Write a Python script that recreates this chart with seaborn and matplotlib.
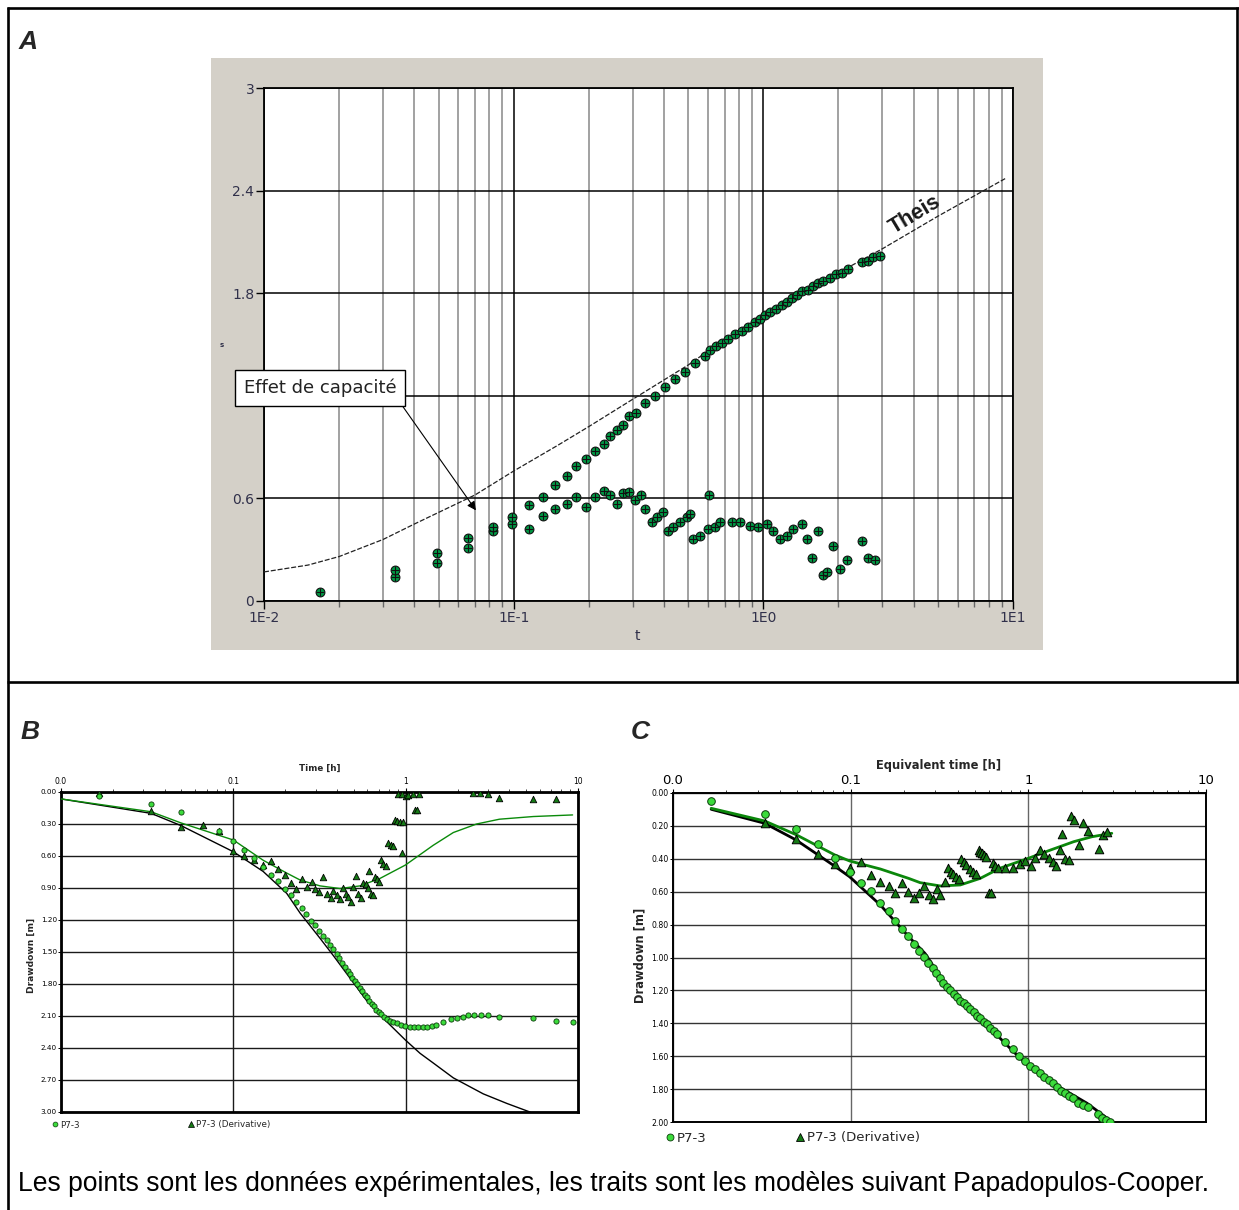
import numpy as np
import pandas as pd
import matplotlib
matplotlib.use("Agg")
import matplotlib.pyplot as plt
import seaborn as sns
from matplotlib.lines import Line2D
from matplotlib.patches import Rectangle
from matplotlib.ticker import LogLocator, FixedLocator, NullFormatter, FixedFormatter

# ---------------- DATA ----------------
# Panel A : drawdown (s) and derivative vs time t, Theis type curve
a_t_draw = [0.0168, 0.0335, 0.0492, 0.0658, 0.0824, 0.0982, 0.115, 0.131, 0.147, 0.163, 0.178, 0.195, 0.211,
            0.229, 0.244, 0.26, 0.275, 0.29, 0.309, 0.336, 0.368, 0.403, 0.442, 0.485, 0.532, 0.583, 0.611, 0.646,
            0.682, 0.721, 0.769, 0.820, 0.867, 0.925, 0.968, 1.014, 1.062, 1.122, 1.186, 1.244, 1.303, 1.364,
            1.428, 1.509, 1.580, 1.655, 1.733, 1.849, 1.954, 2.065, 2.182, 2.483, 2.624, 2.748, 2.931]
a_s_draw = [0.05, 0.14, 0.22, 0.31, 0.41, 0.45, 0.56, 0.61, 0.68, 0.73, 0.79, 0.83, 0.88, 0.92, 0.965, 1.0, 1.03,
            1.08, 1.10, 1.16, 1.20, 1.25, 1.30, 1.34, 1.39, 1.43, 1.47, 1.49, 1.51, 1.53, 1.56, 1.58, 1.60, 1.63,
            1.65, 1.67, 1.69, 1.71, 1.73, 1.75, 1.77, 1.79, 1.81, 1.82, 1.84, 1.86, 1.87, 1.89, 1.91, 1.92, 1.94,
            1.98, 1.99, 2.01, 2.02]
a_t_deriv = [0.0335, 0.0492, 0.0658, 0.0824, 0.0982, 0.115, 0.131, 0.147, 0.163, 0.178, 0.195, 0.211, 0.229,
             0.244, 0.26, 0.275, 0.29, 0.306, 0.323, 0.336, 0.357, 0.374, 0.397, 0.416, 0.436, 0.463, 0.493,
             0.508, 0.524, 0.557, 0.601, 0.607, 0.640, 0.670, 0.746, 0.806, 0.884, 0.955, 1.031, 1.096, 1.165,
             1.239, 1.318, 1.424, 1.491, 1.561, 1.659, 1.738, 1.803, 1.906, 2.027, 2.156, 2.475, 2.631, 2.798]
a_s_deriv = [0.18, 0.28, 0.37, 0.43, 0.49, 0.42, 0.50, 0.54, 0.57, 0.61, 0.55, 0.61, 0.645, 0.62, 0.57, 0.63,
             0.64, 0.59, 0.62, 0.54, 0.46, 0.49, 0.52, 0.41, 0.43, 0.46, 0.49, 0.51, 0.36, 0.38, 0.42, 0.62,
             0.43, 0.46, 0.46, 0.46, 0.44, 0.43, 0.45, 0.41, 0.36, 0.38, 0.42, 0.45, 0.36, 0.25, 0.41, 0.15,
             0.17, 0.32, 0.19, 0.24, 0.35, 0.25, 0.24]
a_t_theis = [0.01, 0.015, 0.02, 0.03, 0.04, 0.07, 0.1, 0.15, 0.2, 0.3, 0.5, 0.7, 1.0, 2.0, 3.0, 5.0, 9.3]
a_s_theis = [0.17, 0.21, 0.26, 0.36, 0.45, 0.62, 0.76, 0.91, 1.02, 1.18, 1.38, 1.53, 1.67, 1.92, 2.06, 2.25, 2.47]
a_xticks = [0.01, 0.1, 1, 10]
a_xticklabels = ["1E-2", "1E-1", "1E0", "1E1"]
a_yticks = [0, 0.6, 1.2, 1.8, 2.4, 3]
a_yticklabels = ["0", "0.6", "", "1.8", "2.4", "3"]   # 1.2 is hidden behind the callout box

# Panel B : P7-3 drawdown and derivative vs time [h]
b_t_draw = [0.0166, 0.0333, 0.0497, 0.0826, 0.0992, 0.116, 0.132, 0.149, 0.166, 0.182, 0.2, 0.215, 0.232, 0.249,
            0.265, 0.282, 0.298, 0.314, 0.330, 0.348, 0.364, 0.381, 0.398, 0.412, 0.429, 0.445, 0.461, 0.476,
            0.491, 0.508, 0.524, 0.544, 0.561, 0.579, 0.597, 0.615, 0.635, 0.655, 0.676, 0.698, 0.723, 0.750,
            0.776, 0.811, 0.849, 0.888, 0.937, 0.996, 1.061, 1.12, 1.186, 1.257, 1.325, 1.418, 1.501, 1.654,
            1.827, 1.980, 2.144, 2.311, 2.495, 2.728, 2.995, 3.485, 5.47, 7.46, 9.40]
b_s_draw = [0.04, 0.115, 0.19, 0.37, 0.456, 0.54, 0.62, 0.70, 0.78, 0.83, 0.905, 0.965, 1.035, 1.09, 1.14, 1.21,
            1.25, 1.30, 1.35, 1.39, 1.43, 1.475, 1.52, 1.56, 1.60, 1.64, 1.675, 1.705, 1.74, 1.77, 1.80, 1.835,
            1.865, 1.90, 1.925, 1.955, 1.985, 2.01, 2.04, 2.06, 2.085, 2.105, 2.125, 2.145, 2.155, 2.17, 2.18,
            2.19, 2.20, 2.20, 2.205, 2.205, 2.20, 2.19, 2.18, 2.16, 2.13, 2.115, 2.105, 2.095, 2.095, 2.095,
            2.095, 2.105, 2.12, 2.15, 2.16]
b_t_deriv = [0.0166, 0.0333, 0.0497, 0.0664, 0.0826, 0.0992, 0.116, 0.132, 0.149, 0.166, 0.182, 0.2, 0.215,
             0.232, 0.249, 0.267, 0.285, 0.298, 0.315, 0.333, 0.351, 0.367, 0.380, 0.398, 0.416, 0.431, 0.451,
             0.465, 0.482, 0.497, 0.515, 0.532, 0.549, 0.569, 0.589, 0.603, 0.616, 0.630, 0.650, 0.667, 0.686,
             0.701, 0.720, 0.742, 0.769, 0.794, 0.819, 0.841, 0.867, 0.895, 0.907, 0.927, 0.948, 0.948, 0.961,
             1.005, 1.037, 1.099, 1.135, 1.159, 1.201, 2.472, 2.70, 2.997, 3.48, 5.47, 7.46]
b_s_deriv = [0.01, 0.175, 0.33, 0.31, 0.365, 0.55, 0.60, 0.64, 0.68, 0.645, 0.725, 0.78, 0.855, 0.91, 0.82,
             0.89, 0.84, 0.91, 0.94, 0.80, 0.96, 0.99, 0.925, 0.965, 1.005, 0.90, 0.955, 0.98, 1.03, 0.895,
             0.785, 0.96, 0.99, 0.85, 0.86, 0.90, 0.74, 0.96, 0.97, 0.80, 0.82, 0.84, 0.64, 0.675, 0.69, 0.48,
             0.50, 0.51, 0.26, 0.27, 0.02, 0.28, 0.575, 0.02, 0.28, 0.04, 0.03, 0.02, 0.17, 0.17, 0.02, 0.01,
             0.01, 0.02, 0.06, 0.07, 0.07]
b_t_model = [0.01, 0.0333, 0.0497, 0.1, 0.149, 0.204, 0.244, 0.318, 0.381, 0.594, 0.74, 0.996, 1.212, 1.444,
             1.89, 2.82, 3.87, 5.26]
b_s_model = [0.065, 0.20, 0.315, 0.56, 0.745, 0.95, 1.135, 1.37, 1.535, 1.956, 2.12, 2.325, 2.45, 2.54, 2.68,
             2.83, 2.92, 3.0]
b_t_model_der = [0.01, 0.0333, 0.0497, 0.1, 0.149, 0.204, 0.244, 0.318, 0.416, 0.544, 0.71, 0.996, 1.444, 1.89,
                 2.58, 3.5, 5.5, 9.3]
b_s_model_der = [0.065, 0.185, 0.29, 0.45, 0.64, 0.76, 0.825, 0.88, 0.905, 0.88, 0.81, 0.685, 0.50, 0.38, 0.30,
                 0.255, 0.23, 0.215]
b_xticks = [0.01, 0.1, 1, 10]
b_xticklabels = ["0.0", "0.1", "1", "10"]
b_yticks = [0.0, 0.3, 0.6, 0.9, 1.2, 1.5, 1.8, 2.1, 2.4, 2.7, 3.0]

# Panel C : P7-3 drawdown and derivative vs equivalent time [h]
c_t_draw = [0.01643, 0.0329, 0.0492, 0.0655, 0.0816, 0.0986, 0.1148, 0.1307, 0.1469, 0.1635, 0.178, 0.1945,
            0.210, 0.227, 0.242, 0.258, 0.274, 0.289, 0.303, 0.319, 0.333, 0.348, 0.364, 0.380, 0.397, 0.414,
            0.432, 0.451, 0.471, 0.492, 0.514, 0.536, 0.560, 0.585, 0.611, 0.637, 0.666, 0.741, 0.819, 0.881,
            0.952, 1.025, 1.094, 1.167, 1.230, 1.300, 1.369, 1.449, 1.532, 1.613, 1.698, 1.782, 1.901, 2.029,
            2.155, 2.454, 2.597, 2.746, 2.891]
c_s_draw = [0.047, 0.128, 0.217, 0.308, 0.397, 0.478, 0.547, 0.598, 0.667, 0.717, 0.776, 0.829, 0.869, 0.918,
            0.959, 0.997, 1.035, 1.066, 1.096, 1.127, 1.157, 1.181, 1.198, 1.222, 1.242, 1.262, 1.279, 1.295,
            1.313, 1.333, 1.354, 1.370, 1.390, 1.406, 1.427, 1.447, 1.465, 1.516, 1.556, 1.597, 1.627, 1.658,
            1.678, 1.704, 1.725, 1.745, 1.765, 1.789, 1.810, 1.826, 1.842, 1.852, 1.883, 1.897, 1.907, 1.953,
            1.973, 1.988, 1.998]
c_t_deriv = [0.0328, 0.0492, 0.0655, 0.0816, 0.0986, 0.1148, 0.1307, 0.1469, 0.1635, 0.178, 0.1945, 0.210, 0.227,
             0.242, 0.258, 0.275, 0.291, 0.306, 0.319, 0.338, 0.353, 0.367, 0.379, 0.391, 0.405, 0.418, 0.432,
             0.447, 0.467, 0.488, 0.507, 0.525, 0.536, 0.548, 0.565, 0.580, 0.597, 0.616, 0.632, 0.651, 0.671,
             0.741, 0.819, 0.893, 0.961, 1.035, 1.094, 1.167, 1.230, 1.300, 1.369, 1.430, 1.499, 1.557, 1.613,
             1.684, 1.737, 1.796, 1.917, 2.029, 2.155, 2.483, 2.629, 2.767]
c_s_deriv = [0.184, 0.281, 0.373, 0.432, 0.458, 0.417, 0.498, 0.539, 0.565, 0.610, 0.545, 0.600, 0.640, 0.610,
             0.565, 0.62, 0.644, 0.586, 0.620, 0.539, 0.454, 0.478, 0.494, 0.509, 0.523, 0.401, 0.421, 0.438,
             0.462, 0.478, 0.494, 0.347, 0.357, 0.367, 0.377, 0.387, 0.610, 0.610, 0.427, 0.444, 0.458, 0.458,
             0.458, 0.433, 0.413, 0.444, 0.393, 0.347, 0.373, 0.397, 0.421, 0.444, 0.347, 0.249, 0.403, 0.407,
             0.138, 0.164, 0.316, 0.184, 0.231, 0.340, 0.255, 0.239]
c_t_model = [0.0164, 0.0328, 0.0492, 0.0816, 0.0986, 0.1469, 0.212, 0.262, 0.348, 0.536, 0.826, 1.0, 1.449,
             2.14, 2.95]
c_s_model = [0.099, 0.184, 0.285, 0.446, 0.509, 0.681, 0.873, 0.975, 1.177, 1.37, 1.573, 1.658, 1.779, 1.886,
             1.998]
c_t_model_der = [0.0164, 0.0328, 0.0492, 0.0816, 0.0986, 0.1469, 0.212, 0.246, 0.319, 0.414, 0.536, 0.69, 1.0,
                 1.33, 1.80, 2.28, 2.95]
c_s_model_der = [0.093, 0.17, 0.253, 0.377, 0.413, 0.462, 0.519, 0.545, 0.565, 0.559, 0.519, 0.458, 0.397,
                 0.347, 0.296, 0.266, 0.245]
c_xticks = [0.01, 0.1, 1, 10]
c_xticklabels = ["0.0", "0.1", "1", "10"]
c_yticks = [0.0, 0.2, 0.4, 0.6, 0.8, 1.0, 1.2, 1.4, 1.6, 1.8, 2.0]

caption = "Les points sont les données expérimentales, les traits sont les modèles suivant Papadopulos-Cooper."

# ---------------- STYLE ----------------
sns.set_theme(style="white")
plt.rcParams["font.family"] = ["DejaVu Sans"]

W, H = 1239, 1210
fig = plt.figure(figsize=(W / 100, H / 100), dpi=100)
fig.patch.set_facecolor("white")


def fr(x0, y0, x1, y1):
    """pixel box -> axes rect in figure fraction"""
    return [x0 / W, 1 - y1 / H, (x1 - x0) / W, (y1 - y0) / H]


def fx(x):
    return x / W


def fy(y):
    return 1 - y / H


# frame of the table
frame_kw = dict(color="black", lw=1.9, transform=fig.transFigure, solid_capstyle="butt")
fig.add_artist(Line2D([fx(8), fx(8)], [fy(7), fy(1210)], **frame_kw))
fig.add_artist(Line2D([fx(7), fx(1239)], [fy(8), fy(8)], **frame_kw))
fig.add_artist(Line2D([fx(1237), fx(1237)], [fy(7), fy(682)], **frame_kw))
fig.add_artist(Line2D([fx(7), fx(1239)], [fy(682), fy(682)], **frame_kw))

letter_kw = dict(fontsize=19, fontweight="bold", fontstyle="italic", family=["Liberation Sans", "DejaVu Sans"],
                 ha="center", va="center")
fig.text(fx(28), fy(42), "A", **letter_kw)
fig.text(fx(30), fy(732), "B", **letter_kw)
fig.text(fx(640), fy(732), "C", **letter_kw)

fig.text(fx(18), fy(1184), caption, fontsize=19.1, family=["Liberation Sans", "DejaVu Sans"],
         ha="left", va="center", color="black")

# ---------------- PANEL A ----------------
fig.add_artist(Rectangle((fx(211), fy(650)), (1043 - 211) / W, (650 - 58) / H, transform=fig.transFigure,
                         facecolor="#D4D0C8", edgecolor="none", zorder=0))
axA = fig.add_axes(fr(264, 88, 1013, 601))
axA.set_facecolor("white")
axA.set_xscale("log")
axA.set_xlim(0.01, 10)
axA.set_ylim(0, 3)
axA.xaxis.set_major_locator(FixedLocator(a_xticks))
axA.xaxis.set_major_formatter(FixedFormatter(a_xticklabels))
axA.xaxis.set_minor_locator(LogLocator(base=10, subs=np.arange(2, 10)))
axA.xaxis.set_minor_formatter(NullFormatter())
axA.set_yticks(a_yticks)
axA.set_yticklabels(a_yticklabels)
axA.grid(True, which="minor", axis="x", color="#9a9a9a", lw=1.3, zorder=0)
axA.grid(True, which="major", color="black", lw=1.1, zorder=0.5)
axA.set_axisbelow(True)
for sp in axA.spines.values():
    sp.set_color("black")
    sp.set_linewidth(1.3)
axA.tick_params(axis="both", which="major", direction="out", length=6, width=1, color="black",
                labelsize=10, labelcolor="#30304a", pad=1, left=True, bottom=True)
axA.tick_params(axis="x", which="minor", direction="out", length=4, width=1, color="#666666", bottom=True)

sns.lineplot(x=a_t_theis, y=a_s_theis, ax=axA, color="#222222", lw=0.9, linestyle=(0, (4, 1.5)),
             sort=False, zorder=3)
for tt, ss in ((a_t_draw, a_s_draw), (a_t_deriv, a_s_deriv)):
    sns.scatterplot(x=tt, y=ss, ax=axA, marker="o", s=40, color="#009944", edgecolor="#111111",
                    linewidth=0.8, zorder=4)
    sns.scatterplot(x=tt, y=ss, ax=axA, marker="+", s=30, color="#111111", linewidth=0.8, zorder=5)
axA.set_xlabel("")
axA.set_ylabel("")
fig.text(fx(637), fy(636), "t", fontsize=10, color="#30304a", ha="center", va="center")
fig.text(fx(222), fy(345), "s", fontsize=5, fontweight="bold", color="#30304a", ha="center", va="center")

axA.text(4.05, 2.257, "Theis", rotation=31, rotation_mode="anchor", ha="center", va="center",
         fontsize=15.5, fontweight="bold", family=["Liberation Sans", "DejaVu Sans"], color="#1a1a1a", zorder=6)
axA.annotate("Effet de capacité", xy=(0.0706, 0.53), xycoords="data",
             xytext=(fx(320), fy(388)), textcoords="figure fraction",
             ha="center", va="center", fontsize=13, color="#222222",
             bbox=dict(boxstyle="square,pad=0.5", fc="white", ec="black", lw=1),
             arrowprops=dict(arrowstyle="-|>", color="black", lw=0.8, mutation_scale=13,
                             shrinkA=0, shrinkB=0, relpos=(1, 0)),
             annotation_clip=False, zorder=10)

# ---------------- helper for B and C ----------------
circle_col = "#3BDB3B"
tri_col = "#157A15"


def setup_bc(ax, yticks, ylim, xtick_size, ytick_size, grid_col, vgrid_col, spine_lw):
    ax.set_xscale("log")
    ax.set_xlim(0.01, 10)
    ax.set_ylim(ylim, 0)
    ax.xaxis.tick_top()
    ax.xaxis.set_major_locator(FixedLocator(b_xticks))
    ax.xaxis.set_minor_locator(LogLocator(base=10, subs=np.arange(2, 10)))
    ax.xaxis.set_minor_formatter(NullFormatter())
    ax.set_yticks(yticks)
    ax.set_yticklabels([f"{v:.2f}" for v in yticks])
    ax.yaxis.grid(True, color=grid_col, lw=1.0)
    ax.xaxis.grid(True, which="major", color=vgrid_col, lw=1.0)
    ax.set_axisbelow(True)
    for sp in ax.spines.values():
        sp.set_color("black")
        sp.set_linewidth(spine_lw)
    ax.tick_params(axis="x", which="major", top=True, bottom=False, direction="out", length=3, width=0.8,
                   labelsize=xtick_size, pad=1, labeltop=True, labelbottom=False, colors="black")
    ax.tick_params(axis="x", which="minor", top=True, bottom=False, direction="out", length=2.5, width=0.6)
    ax.tick_params(axis="y", which="major", left=True, direction="out", length=2, width=0.7,
                   labelsize=ytick_size, pad=1, colors="black")
    ax.set_xlabel("")
    ax.set_ylabel("")


# ---------------- PANEL B ----------------
axB = fig.add_axes(fr(61, 792, 578, 1112))
axB.set_facecolor("white")
sns.lineplot(x=b_t_model, y=b_s_model, ax=axB, color="black", lw=1.0, sort=False, zorder=3)
sns.lineplot(x=b_t_model_der, y=b_s_model_der, ax=axB, color="#0A8A0A", lw=1.0, sort=False, zorder=3)
sns.scatterplot(x=b_t_deriv, y=b_s_deriv, ax=axB, marker="^", s=22, color=tri_col, edgecolor="black",
                linewidth=0.6, zorder=4)
sns.scatterplot(x=b_t_draw, y=b_s_draw, ax=axB, marker="o", s=14, color=circle_col, edgecolor="#0b3b0b",
                linewidth=0.6, zorder=5)
setup_bc(axB, b_yticks, 3.0, 5.5, 5.2, "#1a1a1a", "#1a1a1a", 2.0)
axB.set_xticklabels(b_xticklabels)
fig.text(fx(320), fy(768), "Time [h]", fontsize=6.3, fontweight="bold", ha="center", va="center")
fig.text(fx(31), fy(955), "Drawdown [m]", fontsize=6.6, fontweight="bold", rotation=90, ha="center",
         va="center")
hB = [Line2D([], [], ls="none", marker="o", ms=3.5, mfc=circle_col, mec="#0b3b0b", mew=0.5),
      Line2D([], [], ls="none", marker="^", ms=4.5, mfc=tri_col, mec="black", mew=0.5)]
fig.legend(hB, ["P7-3", "P7-3 (Derivative)"], loc="center left", bbox_to_anchor=(fx(52), fy(1125)),
           ncol=2, frameon=False, fontsize=6.3, handlelength=0.6, handletextpad=0.3, columnspacing=12.4,
           borderpad=0, borderaxespad=0)

# ---------------- PANEL C ----------------
axC = fig.add_axes(fr(673, 793, 1206, 1122))
axC.set_facecolor("white")
sns.lineplot(x=c_t_model, y=c_s_model, ax=axC, color="black", lw=2.0, sort=False, zorder=3)
sns.lineplot(x=c_t_model_der, y=c_s_model_der, ax=axC, color="#0B870B", lw=2.0, sort=False, zorder=3)
sns.scatterplot(x=c_t_deriv, y=c_s_deriv, ax=axC, marker="^", s=38, color=tri_col, edgecolor="black",
                linewidth=0.7, zorder=4)
sns.scatterplot(x=c_t_draw, y=c_s_draw, ax=axC, marker="o", s=30, color=circle_col, edgecolor="#0b3b0b",
                linewidth=0.7, zorder=5)
setup_bc(axC, c_yticks, 2.0, 9.5, 5.6, "#333333", "#666666", 1.4)
axC.set_xticklabels(c_xticklabels)
fig.text(fx(939), fy(766), "Equivalent time [h]", fontsize=8.3, fontweight="bold", ha="center", va="center")
fig.text(fx(640), fy(955), "Drawdown [m]", fontsize=8.3, fontweight="bold", rotation=90, ha="center",
         va="center")
hC = [Line2D([], [], ls="none", marker="o", ms=5, mfc=circle_col, mec="#0b3b0b", mew=0.6),
      Line2D([], [], ls="none", marker="^", ms=6, mfc=tri_col, mec="black", mew=0.6)]
fig.legend(hC, ["P7-3", "P7-3 (Derivative)"], loc="center left", bbox_to_anchor=(fx(666), fy(1138)),
           ncol=2, frameon=False, fontsize=9.5, handlelength=0.6, handletextpad=0.25, columnspacing=6.75,
           borderpad=0, borderaxespad=0)

fig.savefig("out.png", dpi=100, facecolor="white")
